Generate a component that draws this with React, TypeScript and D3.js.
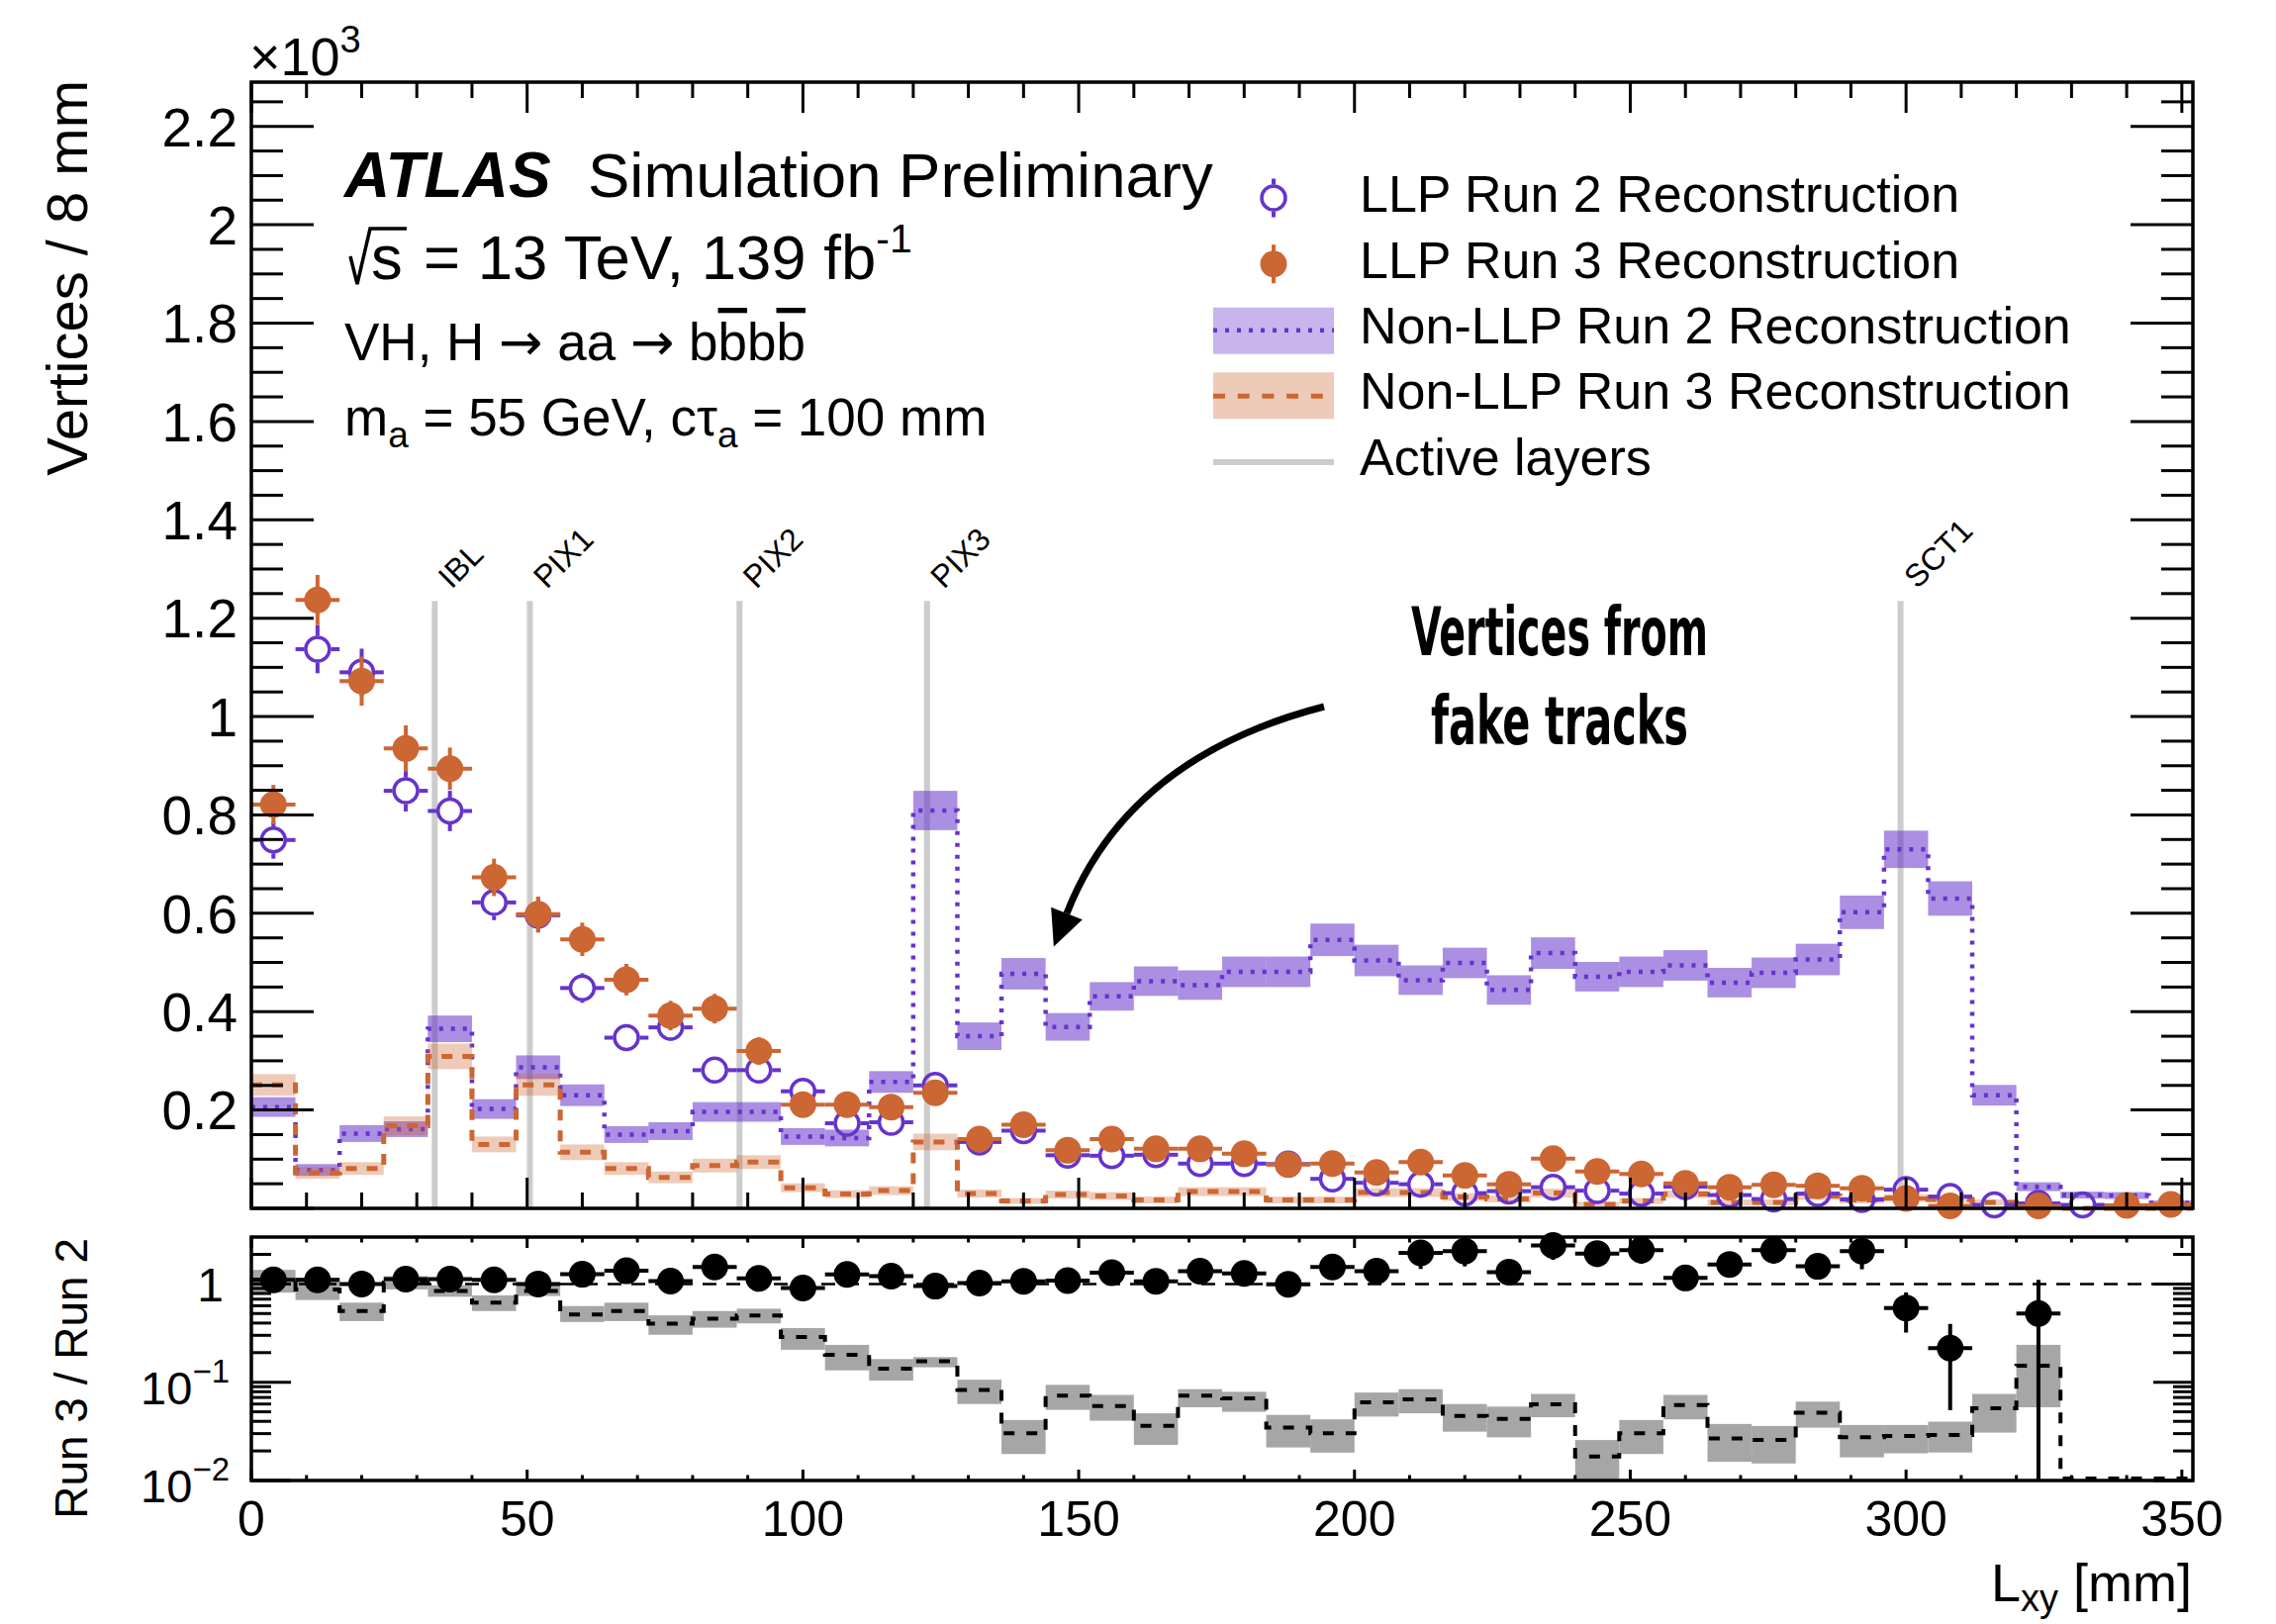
import React from "react";
import * as d3 from "d3";

// ---------------- data (44 bins of 8 mm, 0-352 mm) ----------------
const binWidthMm = 8;
const axisMaxMm = 352;

const llpRun2 = [0.749,1.137,1.090,0.849,0.808,0.622,0.596,0.448,0.347,0.368,0.281,0.281,0.238,0.173,0.175,0.250,0.135,0.158,0.108,0.107,0.109,0.091,0.091,0.090,0.060,0.052,0.049,0.031,0.035,0.043,0.036,0.030,0.044,0.027,0.019,0.030,0.018,0.038,0.024,0.007,0.010,0.007,0,0];
const llpRun2Err = [0.038,0.049,0.048,0.042,0.041,0.036,0.035,0.030,0.027,0.028,0.024,0.024,0.022,0.019,0.019,0.022,0.017,0.018,0.015,0.015,0.015,0.014,0.014,0.014,0.011,0.010,0.010,0.008,0.009,0.010,0.009,0.008,0.010,0.008,0.007,0.008,0.006,0.009,0.007,0.004,0.005,0.004,0,0];

const llpRun3 = [0.821,1.237,1.072,0.935,0.894,0.673,0.598,0.547,0.465,0.392,0.406,0.320,0.211,0.211,0.206,0.235,0.141,0.170,0.118,0.141,0.121,0.121,0.111,0.089,0.091,0.073,0.094,0.067,0.049,0.101,0.075,0.070,0.051,0.043,0.048,0.046,0.041,0.020,0.005,0,0.005,0,0.006,0.008];
const llpRun3Err = [0.040,0.051,0.050,0.047,0.043,0.038,0.036,0.034,0.032,0.030,0.030,0.028,0.022,0.022,0.022,0.024,0.018,0.019,0.016,0.018,0.017,0.017,0.016,0.014,0.014,0.013,0.014,0.012,0.010,0.014,0.012,0.012,0.010,0.010,0.010,0.010,0.009,0.007,0.004,0,0.004,0,0.004,0.004];

const nonLlpRun2 = [0.206,0.078,0.152,0.161,0.365,0.202,0.287,0.230,0.150,0.157,0.196,0.196,0.146,0.143,0.257,0.809,0.350,0.477,0.369,0.431,0.462,0.454,0.481,0.481,0.546,0.504,0.464,0.499,0.444,0.519,0.471,0.481,0.494,0.459,0.479,0.506,0.602,0.730,0.630,0.230,0.044,0.027,0.026,0.011];
const nonLlpRun2Err = [0.020,0.012,0.017,0.016,0.027,0.020,0.024,0.022,0.017,0.018,0.020,0.020,0.017,0.017,0.022,0.040,0.028,0.032,0.028,0.029,0.030,0.030,0.031,0.031,0.033,0.032,0.030,0.031,0.030,0.032,0.030,0.031,0.031,0.030,0.031,0.032,0.034,0.038,0.035,0.021,0.009,0.007,0.007,0.005];

const nonLlpRun3 = [0.251,0.072,0.081,0.168,0.309,0.130,0.251,0.114,0.081,0.063,0.087,0.094,0.042,0.029,0.036,0.135,0.030,0.015,0.028,0.025,0.017,0.034,0.034,0.017,0.017,0.032,0.032,0.023,0.019,0.031,0.008,0.015,0.029,0.012,0.012,0.025,0.017,0.021,0.018,0.012,0.006,0,0,0];
const nonLlpRun3Err = [0.022,0.012,0.013,0.019,0.026,0.016,0.022,0.016,0.013,0.012,0.014,0.014,0.009,0.008,0.009,0.017,0.008,0.006,0.008,0.008,0.007,0.009,0.009,0.007,0.007,0.009,0.009,0.008,0.007,0.009,0.005,0.006,0.008,0.006,0.006,0.008,0.007,0.008,0.007,0.006,0.004,0,0,0];

const ratioLlp = [1.10,1.10,1.00,1.12,1.12,1.10,1.00,1.255,1.36,1.07,1.49,1.14,0.91,1.25,1.20,0.95,1.02,1.065,1.08,1.30,1.065,1.35,1.28,0.99,1.49,1.35,2.07,2.16,1.32,2.46,2.04,2.21,1.15,1.58,2.21,1.51,2.16,0.57,0.222,0,0.50,0,0,0];
const ratioLlpErr = [0.05,0.05,0.05,0.06,0.06,0.06,0.06,0.07,0.08,0.07,0.09,0.08,0.07,0.10,0.10,0.08,0.10,0.10,0.10,0.15,0.12,0.15,0.15,0.15,0.35,0.30,0.65,0.65,0.30,0.70,0.55,0.60,0.25,0.40,0.60,0.40,0.75,0.25,0.17,0,0.60,0,0,0];

const ratioNonLlp = [1.10,0.88,0.53,1.03,0.85,0.645,0.85,0.49,0.53,0.394,0.443,0.479,0.288,0.190,0.137,0.163,0.0836,0.0302,0.073,0.0574,0.0359,0.073,0.0687,0.0345,0.0302,0.0625,0.067,0.0454,0.0423,0.0597,0.0175,0.0302,0.0587,0.0268,0.0258,0.049,0.0275,0.0284,0.029,0.0543,0.147,0,0,0];
const ratioNonLlpHi = [1.39,1.16,0.645,1.20,0.97,0.766,0.955,0.596,0.645,0.479,0.53,0.56,0.356,0.24,0.172,0.18,0.106,0.0413,0.094,0.0743,0.0483,0.085,0.08,0.0465,0.0419,0.0785,0.085,0.06,0.0565,0.076,0.0258,0.0413,0.0743,0.0376,0.0359,0.0635,0.0367,0.0367,0.0397,0.076,0.24,0,0,0];
const ratioNonLlpLo = [0.815,0.687,0.419,0.88,0.74,0.53,0.754,0.41,0.419,0.304,0.359,0.397,0.214,0.132,0.104,0.142,0.06,0.0186,0.0523,0.0406,0.023,0.0556,0.05,0.0217,0.0192,0.0447,0.0483,0.0314,0.0275,0.044,0.009,0.0186,0.0419,0.0155,0.0149,0.0345,0.0172,0.0189,0.0193,0.0307,0.0556,0,0,0];

const layerNames = ["IBL", "PIX1", "PIX2", "PIX3", "SCT1"];
const layerRadii = [33.25, 50.5, 88.5, 122.5, 299];

const mainYTickLabels = ["0.2","0.4","0.6","0.8","1","1.2","1.4","1.6","1.8","2","2.2"];
const xTickLabels = ["0","50","100","150","200","250","300","350"];

const legendLabels = [
  "LLP Run 2 Reconstruction",
  "LLP Run 3 Reconstruction",
  "Non-LLP Run 2 Reconstruction",
  "Non-LLP Run 3 Reconstruction",
  "Active layers",
];

// ---------------- styling ----------------
const PURPLE = "#6633cc";
const ORANGE = "#cc6633";
const FONT = "'Liberation Sans', Arial, Helvetica, sans-serif";

export default function App() {
  const W = 2300, H = 1641;
  const L = 254, Rr = 2216;
  const x = d3.scaleLinear().domain([0, axisMaxMm]).range([L, Rr]);
  const y = d3.scaleLinear().domain([0, 2.29]).range([1221, 83]);
  const yr = d3.scaleLog().domain([0.01, 3]).range([1496, 1250]);
  const MT = 83, MB = 1221, RT = 1250, RB = 1496;
  const MR = 13.5;

  const bins = llpRun2.map((_, i) => ({ lo: i * binWidthMm, hi: (i + 1) * binWidthMm, c: i * binWidthMm + binWidthMm / 2 }));

  const stepPath = (vals: number[], ys: any, floor: number) => {
    const pts: [number, number][] = vals.map((v, i) => [bins[i].lo, Math.max(v, floor)]);
    pts.push([axisMaxMm, Math.max(vals[vals.length - 1], floor)]);
    return d3.line<[number, number]>().x(d => x(d[0])).y(d => ys(d[1])).curve(d3.curveStepAfter)(pts) || "";
  };

  // ticks
  const yMajor = d3.range(0, 2.21, 0.2);
  const yMinor = d3.range(0, 2.29, 0.05).filter(v => Math.abs(v / 0.2 - Math.round(v / 0.2)) > 1e-6);
  const xMajor = d3.range(0, 351, 50);
  const xMinor = d3.range(0, 351, 10).filter(v => v % 50 !== 0);
  const rMajor = [0.01, 0.1, 1];
  const rMinor = [0.02,0.03,0.04,0.05,0.06,0.07,0.08,0.09,0.2,0.3,0.4,0.5,0.6,0.7,0.8,0.9,2];

  const tickStyle = { stroke: "#000", strokeWidth: 3 };

  // arrow geometry
  const p0: [number, number] = [1338, 714];
  const p1: [number, number] = [1140, 765];
  const p2: [number, number] = [1078, 923];
  const arrowPath = d3.path();
  arrowPath.moveTo(p0[0], p0[1]);
  arrowPath.quadraticCurveTo(p1[0], p1[1], p2[0], p2[1]);
  const dx = p2[0] - p1[0], dy = p2[1] - p1[1];
  const dl = Math.hypot(dx, dy);
  const ux = dx / dl, uy = dy / dl;
  const tip: [number, number] = [p2[0] + ux * 36, p2[1] + uy * 36];
  const wingA: [number, number] = [p2[0] - uy * 17, p2[1] + ux * 17];
  const wingB: [number, number] = [p2[0] + uy * 17, p2[1] - ux * 17];

  const legendX = 1287;
  const legendTextX = 1374;
  const legendBase = [214, 280.7, 346.7, 413.3, 480];
  const ARROW_FONT = "'DejaVu Sans', sans-serif";

  return (
    <svg width={W} height={H} viewBox={`0 0 ${W} ${H}`} style={{ position: "absolute", left: 0, top: 0, background: "#fff" }} fontFamily={FONT}>
      <rect x={0} y={0} width={W} height={H} fill="#fff" />

      {/* ---------- main panel ---------- */}
      {/* active layers */}
      {layerRadii.map((r, i) => (
        <g key={"layer" + i}>
          <line x1={x(r)} x2={x(r)} y1={MB} y2={y(1.235)} stroke="#cccccc" strokeWidth={6} />
          <text transform={`translate(${x(r) + 17},${596}) rotate(-45)`} fontSize={32} fill="#000">{layerNames[i]}</text>
        </g>
      ))}

      {/* non-LLP Run 2 band + line */}
      {nonLlpRun2.map((v, i) => v > 0 ? (
        <rect key={"b2" + i} x={x(bins[i].lo)} width={x(bins[i].hi) - x(bins[i].lo)} y={y(v + nonLlpRun2Err[i])} height={y(Math.max(v - nonLlpRun2Err[i], 0)) - y(v + nonLlpRun2Err[i])} fill={PURPLE} fillOpacity={0.55} />
      ) : null)}
      <path d={stepPath(nonLlpRun2, y, 0)} fill="none" stroke={PURPLE} strokeWidth={4.5} strokeDasharray="4 8" />

      {/* non-LLP Run 3 band + line */}
      {nonLlpRun3.map((v, i) => v > 0 ? (
        <rect key={"b3" + i} x={x(bins[i].lo)} width={x(bins[i].hi) - x(bins[i].lo)} y={y(v + nonLlpRun3Err[i])} height={y(Math.max(v - nonLlpRun3Err[i], 0)) - y(v + nonLlpRun3Err[i])} fill={ORANGE} fillOpacity={0.34} />
      ) : null)}
      <path d={stepPath(nonLlpRun3, y, 0)} fill="none" stroke={ORANGE} strokeWidth={5} strokeDasharray="11 10" />

      {/* LLP Run 2 (open) */}
      {llpRun2.map((v, i) => {
        if (v <= 0) return null;
        const cx = x(bins[i].c), cy = y(v);
        const top = y(v + llpRun2Err[i]), bot = y(v - llpRun2Err[i]);
        return (
          <g key={"p2" + i} stroke={PURPLE} strokeWidth={4}>
            <line x1={x(bins[i].lo)} x2={cx - MR} y1={cy} y2={cy} />
            <line x1={cx + MR} x2={x(bins[i].hi)} y1={cy} y2={cy} />
            {cy - top > MR ? <line x1={cx} x2={cx} y1={top} y2={cy - MR} /> : null}
            {bot - cy > MR ? <line x1={cx} x2={cx} y1={cy + MR} y2={bot} /> : null}
            <circle cx={cx} cy={cy} r={MR - 1.5} fill="none" strokeWidth={3.5} />
          </g>
        );
      })}

      {/* LLP Run 3 (filled) */}
      {llpRun3.map((v, i) => {
        if (v <= 0) return null;
        const cx = x(bins[i].c), cy = y(v);
        return (
          <g key={"p3" + i} stroke={ORANGE} strokeWidth={4}>
            <line x1={x(bins[i].lo)} x2={x(bins[i].hi)} y1={cy} y2={cy} />
            <line x1={cx} x2={cx} y1={y(v + llpRun3Err[i])} y2={y(v - llpRun3Err[i])} />
            <circle cx={cx} cy={cy} r={MR} fill={ORANGE} stroke="none" />
          </g>
        );
      })}

      {/* main frame + ticks */}
      <g>
        {yMajor.map((v, i) => (
          <g key={"ymj" + i}>
            <line x1={L} x2={L + 63} y1={y(v)} y2={y(v)} {...tickStyle} />
            <line x1={Rr} x2={Rr - 63} y1={y(v)} y2={y(v)} {...tickStyle} />
          </g>
        ))}
        {yMinor.map((v, i) => (
          <g key={"ymn" + i}>
            <line x1={L} x2={L + 32} y1={y(v)} y2={y(v)} {...tickStyle} />
            <line x1={Rr} x2={Rr - 32} y1={y(v)} y2={y(v)} {...tickStyle} />
          </g>
        ))}
        {xMajor.map((v, i) => (
          <g key={"xmj" + i}>
            <line x1={x(v)} x2={x(v)} y1={MB} y2={MB - 31} {...tickStyle} />
            <line x1={x(v)} x2={x(v)} y1={MT} y2={MT + 31} {...tickStyle} />
          </g>
        ))}
        {xMinor.map((v, i) => (
          <g key={"xmn" + i}>
            <line x1={x(v)} x2={x(v)} y1={MB} y2={MB - 16} {...tickStyle} />
            <line x1={x(v)} x2={x(v)} y1={MT} y2={MT + 16} {...tickStyle} />
          </g>
        ))}
        <rect x={L} y={MT} width={Rr - L} height={MB - MT} fill="none" stroke="#000" strokeWidth={3.5} />
        {mainYTickLabels.map((t, i) => (
          <text key={"yl" + i} x={240} y={y(+t)} dy="0.36em" textAnchor="end" fontSize={55}>{t}</text>
        ))}
      </g>

      {/* ---------- ratio panel ---------- */}
      {ratioNonLlp.map((v, i) => v > 0 ? (
        <rect key={"rb" + i} x={x(bins[i].lo)} width={x(bins[i].hi) - x(bins[i].lo)} y={yr(Math.min(ratioNonLlpHi[i], 3))} height={yr(Math.max(ratioNonLlpLo[i], 0.01)) - yr(Math.min(ratioNonLlpHi[i], 3))} fill="#a6a6a6" />
      ) : null)}
      <path d={stepPath(ratioNonLlp, yr, 0.0105)} fill="none" stroke="#000" strokeWidth={4} strokeDasharray="11 12" />
      <line x1={L} x2={Rr} y1={yr(1)} y2={yr(1)} stroke="#000" strokeWidth={2.5} strokeDasharray="14 10" />
      {ratioLlp.map((v, i) => {
        if (v <= 0) return null;
        const cx = x(bins[i].c), cy = yr(v);
        const hiV = Math.min(v + ratioLlpErr[i], 3);
        const loV = Math.max(v - ratioLlpErr[i], 0.01);
        return (
          <g key={"rp" + i} stroke="#000" strokeWidth={4}>
            <line x1={x(bins[i].lo)} x2={x(bins[i].hi)} y1={cy} y2={cy} />
            <line x1={cx} x2={cx} y1={yr(hiV)} y2={yr(loV)} />
            <circle cx={cx} cy={cy} r={MR} fill="#000" stroke="none" />
          </g>
        );
      })}
      <g>
        {rMajor.map((v, i) => (
          <g key={"rmj" + i}>
            <line x1={L} x2={L + 40} y1={yr(v)} y2={yr(v)} {...tickStyle} />
            <line x1={Rr} x2={Rr - 40} y1={yr(v)} y2={yr(v)} {...tickStyle} />
          </g>
        ))}
        {rMinor.map((v, i) => (
          <g key={"rmn" + i}>
            <line x1={L} x2={L + 20} y1={yr(v)} y2={yr(v)} {...tickStyle} />
            <line x1={Rr} x2={Rr - 20} y1={yr(v)} y2={yr(v)} {...tickStyle} />
          </g>
        ))}
        {xMajor.map((v, i) => (
          <g key={"rxmj" + i}>
            <line x1={x(v)} x2={x(v)} y1={RB} y2={RB - 11} {...tickStyle} />
            <line x1={x(v)} x2={x(v)} y1={RT} y2={RT + 11} {...tickStyle} />
          </g>
        ))}
        {xMinor.map((v, i) => (
          <g key={"rxmn" + i}>
            <line x1={x(v)} x2={x(v)} y1={RB} y2={RB - 5.5} {...tickStyle} />
            <line x1={x(v)} x2={x(v)} y1={RT} y2={RT + 5.5} {...tickStyle} />
          </g>
        ))}
        <rect x={L} y={RT} width={Rr - L} height={RB - RT} fill="none" stroke="#000" strokeWidth={3.5} />
        {/* ratio y labels */}
        <text x={226} y={yr(1)} dy="0.36em" textAnchor="end" fontSize={48}>1</text>
        <text x={232} y={yr(0.1) + 22} textAnchor="end" fontSize={47}>10<tspan fontSize={33} dy={-22}>−1</tspan></text>
        <text x={232} y={yr(0.01) + 22} textAnchor="end" fontSize={47}>10<tspan fontSize={33} dy={-22}>−2</tspan></text>
        {/* x labels */}
        {xTickLabels.map((t, i) => (
          <text key={"xl" + i} x={x(+t)} y={1552} textAnchor="middle" fontSize={50}>{t}</text>
        ))}
      </g>

      {/* axis titles */}
      <text transform="translate(88,81) rotate(-90)" textAnchor="end" fontSize={58}>Vertices / 8 mm</text>
      <text transform="translate(88,1251) rotate(-90)" textAnchor="end" fontSize={46}>Run 3 / Run 2</text>
      <text x={2215} y={1618} textAnchor="end" fontSize={54}>L<tspan fontSize={38} dy={10}>xy</tspan><tspan dy={-10}> [mm]</tspan></text>
      <text x={252} y={76} fontSize={54}>×10<tspan fontSize={38} dy={-23}>3</tspan></text>

      {/* ATLAS label block */}
      <text x={348} y={198.5} fontSize={64} fontWeight="bold" fontStyle="italic">ATLAS</text>
      <text x={594} y={198.5} fontSize={63.5}>Simulation Preliminary</text>
      <path d="M354,259 L361,287 L374,231 L411,231" fill="none" stroke="#000" strokeWidth={3.5} />
      <text x={375} y={282} fontSize={63.5}>s</text>
      <text x={428} y={282} fontSize={63.5}>= 13 TeV, 139 fb<tspan fontSize={41} dy={-27}>-1</tspan></text>
      <text x={348} y={364} fontSize={53}>VH, H <tspan fontFamily={ARROW_FONT}>→</tspan> aa <tspan fontFamily={ARROW_FONT}>→</tspan> b<tspan style={{ textDecoration: "overline" }}>b</tspan>b<tspan style={{ textDecoration: "overline" }}>b</tspan></text>
      <text x={348} y={440} fontSize={53}>m<tspan fontSize={37} dy={12}>a</tspan><tspan dy={-12}> = 55 GeV, cτ</tspan><tspan fontSize={37} dy={12}>a</tspan><tspan dy={-12}> = 100 mm</tspan></text>

      {/* legend */}
      <g>
        {/* LLP Run 2 */}
        <line x1={legendX} x2={legendX} y1={legendBase[0] - 14 - 19.5} y2={legendBase[0] - 14 - MR} stroke={PURPLE} strokeWidth={4} />
        <line x1={legendX} x2={legendX} y1={legendBase[0] - 14 + MR} y2={legendBase[0] - 14 + 19.5} stroke={PURPLE} strokeWidth={4} />
        <circle cx={legendX} cy={legendBase[0] - 14} r={MR - 1.5} fill="none" stroke={PURPLE} strokeWidth={3.5} />
        {/* LLP Run 3 */}
        <line x1={legendX} x2={legendX} y1={legendBase[1] - 14 - 19.5} y2={legendBase[1] - 14 + 19.5} stroke={ORANGE} strokeWidth={4} />
        <circle cx={legendX} cy={legendBase[1] - 14} r={MR} fill={ORANGE} />
        {/* Non-LLP Run 2 */}
        <rect x={1226} y={legendBase[2] - 36} width={122} height={47} fill={PURPLE} fillOpacity={0.36} />
        <line x1={1226} x2={1348} y1={legendBase[2] - 13} y2={legendBase[2] - 13} stroke={PURPLE} strokeWidth={4.5} strokeDasharray="4 8" />
        {/* Non-LLP Run 3 */}
        <rect x={1226} y={legendBase[3] - 37} width={122} height={47} fill={ORANGE} fillOpacity={0.34} />
        <line x1={1226} x2={1348} y1={legendBase[3] - 13} y2={legendBase[3] - 13} stroke={ORANGE} strokeWidth={5} strokeDasharray="12 12.7" />
        {/* Active layers */}
        <line x1={1226} x2={1348} y1={legendBase[4] - 13} y2={legendBase[4] - 13} stroke="#cccccc" strokeWidth={6} />
        {legendLabels.map((t, i) => (
          <text key={"lg" + i} x={legendTextX} y={legendBase[i]} fontSize={52}>{t}</text>
        ))}
      </g>

      {/* annotation */}
      <g fontFamily="'Liberation Sans Narrow', 'DejaVu Sans Condensed', 'Liberation Sans', sans-serif" fontWeight="bold">
        <text x={1576} y={662} textAnchor="middle" fontSize={68} textLength={300} lengthAdjust="spacingAndGlyphs">Vertices from</text>
        <text x={1576} y={752} textAnchor="middle" fontSize={68} textLength={260} lengthAdjust="spacingAndGlyphs">fake tracks</text>
      </g>
      <path d={arrowPath.toString()} fill="none" stroke="#000" strokeWidth={7} />
      <path d={`M${tip[0]},${tip[1]} L${wingA[0]},${wingA[1]} L${wingB[0]},${wingB[1]} Z`} fill="#000" />
    </svg>
  );
}
